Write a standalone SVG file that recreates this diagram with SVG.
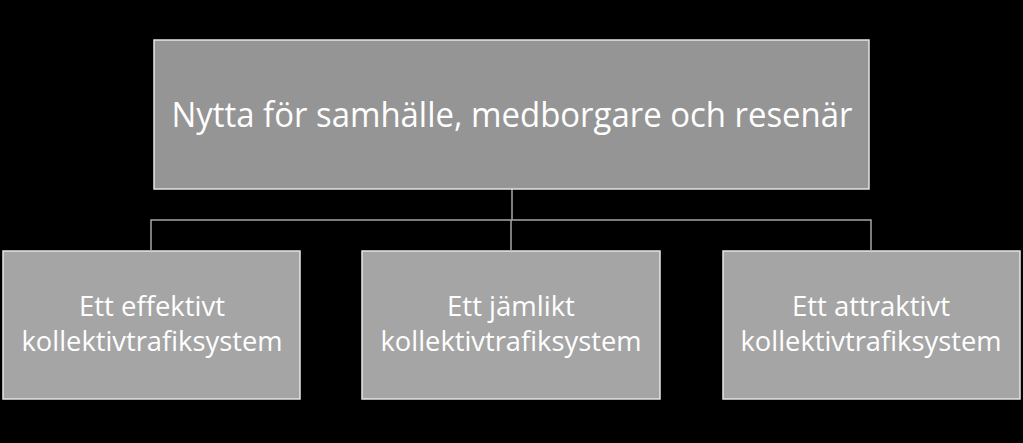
<svg xmlns="http://www.w3.org/2000/svg" width="1023" height="443" viewBox="0 0 1023 443">
<style>
.box{stroke:#e6e6e6;stroke-width:1.5}
.top{fill:#959595}
.sub{fill:#a5a5a5}
.t{font-family:"Open Sans","Noto Sans",sans-serif;fill:#ffffff;text-anchor:middle}
.conn{stroke:#a6a6a6;stroke-width:1.5;fill:none}
</style>
<rect width="1023" height="443" fill="#000"/>
<g id="connectors">
<path class="conn" d="M512 189V220M151 250V220H871V250M511 220V250"/>
</g>
<g id="node-top">
<rect class="box top" x="154" y="40" width="715" height="149"/>
<text class="t" x="512" y="127" font-size="35" textLength="681" lengthAdjust="spacingAndGlyphs">Nytta för samhälle, medborgare och resenär</text>
</g>
<g id="node-effektivt">
<rect class="box sub" x="3" y="251" width="297" height="148"/>
<text class="t" x="152" y="316" font-size="27.5">Ett effektivt</text>
<text class="t" x="152" y="351" font-size="27" textLength="261" lengthAdjust="spacingAndGlyphs">kollektivtrafiksystem</text>
</g>
<g id="node-jamlikt">
<rect class="box sub" x="362" y="251" width="298" height="148"/>
<text class="t" x="511" y="316" font-size="27.5">Ett jämlikt</text>
<text class="t" x="511" y="351" font-size="27" textLength="261" lengthAdjust="spacingAndGlyphs">kollektivtrafiksystem</text>
</g>
<g id="node-attraktivt">
<rect class="box sub" x="723" y="251" width="297" height="148"/>
<text class="t" x="871" y="316" font-size="27.5">Ett attraktivt</text>
<text class="t" x="871" y="351" font-size="27" textLength="261" lengthAdjust="spacingAndGlyphs">kollektivtrafiksystem</text>
</g>
</svg>
